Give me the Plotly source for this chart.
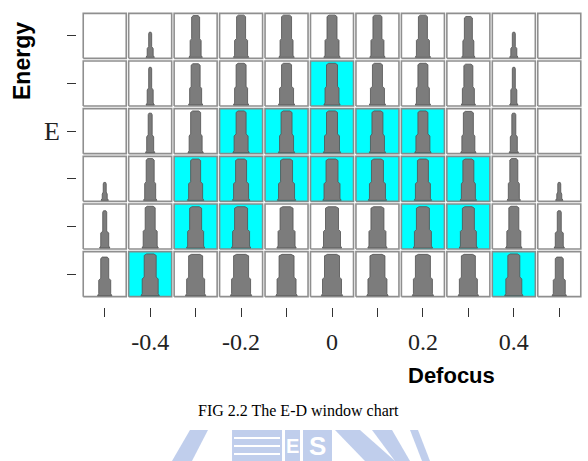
import plotly.graph_objects as go

# ---------------- data ----------------
defocus = [-0.5, -0.4, -0.3, -0.2, -0.1, 0.0, 0.1, 0.2, 0.3, 0.4, 0.5]
energy_levels = [5, 4, 3, 2, 1, 0]          # rows, top to bottom
x_tick_labels = ["", "-0.4", "", "-0.2", "", "0", "", "0.2", "", "0.4", ""]
y_tick_labels = ["", "", "E", "", "", ""]    # rows top to bottom

# in-window (cyan) cells, rows top to bottom
in_window = [
    [0, 0, 0, 0, 0, 0, 0, 0, 0, 0, 0],
    [0, 0, 0, 0, 0, 1, 0, 0, 0, 0, 0],
    [0, 0, 0, 1, 1, 1, 1, 1, 0, 0, 0],
    [0, 0, 1, 1, 1, 1, 1, 1, 1, 0, 0],
    [0, 0, 1, 1, 0, 0, 0, 1, 1, 0, 0],
    [0, 1, 0, 0, 0, 0, 0, 0, 0, 1, 0],
]
# resist profile height (fraction of cell), 0 = no profile
profile_height = [
    [0.00, 0.58, 0.95, 0.96, 0.96, 0.96, 0.96, 0.96, 0.93, 0.58, 0.00],
    [0.00, 0.86, 0.94, 0.95, 0.95, 0.95, 0.95, 0.95, 0.93, 0.86, 0.00],
    [0.00, 0.90, 0.95, 0.95, 0.95, 0.95, 0.95, 0.95, 0.94, 0.90, 0.00],
    [0.42, 0.95, 0.94, 0.94, 0.94, 0.94, 0.94, 0.94, 0.94, 0.95, 0.42],
    [0.85, 0.95, 0.94, 0.94, 0.94, 0.94, 0.94, 0.94, 0.94, 0.95, 0.85],
    [0.88, 0.95, 0.94, 0.94, 0.94, 0.94, 0.94, 0.94, 0.94, 0.95, 0.88],
]
# profile top width (px)
profile_top = [
    [0, 3, 8, 9, 10, 10, 9, 9, 8, 3, 0],
    [0, 3, 9, 10, 10, 11, 10, 10, 9, 3, 0],
    [0, 4, 10, 10, 11, 11, 11, 10, 10, 4, 0],
    [3, 8, 10, 11, 12, 12, 12, 11, 11, 8, 3],
    [4, 10, 12, 13, 13, 13, 13, 13, 12, 10, 4],
    [8, 12, 14, 15, 15, 15, 15, 15, 14, 12, 8],
]
# profile foot width (px)
profile_foot = [
    [0, 6, 11, 13, 13, 14, 13, 13, 11, 6, 0],
    [0, 6, 12, 13, 14, 14, 14, 13, 12, 6, 0],
    [0, 7, 13, 14, 14, 15, 14, 14, 13, 7, 0],
    [5, 11, 14, 15, 16, 16, 16, 15, 14, 11, 5],
    [8, 14, 16, 17, 17, 17, 17, 17, 16, 14, 8],
    [12, 16, 18, 19, 19, 19, 19, 19, 18, 16, 12],
]

# ---------------- geometry ----------------
W, H = 588, 461
X0, X1 = 82, 582          # plot area px
Y0, Y1 = 12, 298
xr = [-0.55, 0.55]
yr = [-0.5, 5.5]
dxu = (xr[1] - xr[0]) / (X1 - X0)   # data units per px
dyu = (yr[1] - yr[0]) / (Y1 - Y0)
half_w = 21.5 * dxu
half_h = 22.5 * dyu
cell_h = 2 * half_h

def cells(mask_val):
    xs, ys = [], []
    for r, e in enumerate(energy_levels):
        for c, d in enumerate(defocus):
            if in_window[r][c] == mask_val:
                xs += [d - half_w, d + half_w, d + half_w, d - half_w, d - half_w, None]
                ys += [e - half_h, e - half_h, e + half_h, e + half_h, e - half_h, None]
    return xs, ys

px, py = [], []
for r, e in enumerate(energy_levels):
    for c, d in enumerate(defocus):
        h = profile_height[r][c]
        if h <= 0:
            continue
        wt = profile_top[r][c] * dxu / 2
        wm = profile_foot[r][c] * dxu / 2
        wb = wm + 1.2 * dxu
        base = e - half_h + 1.0 * dyu
        top = e - half_h + h * cell_h
        s = base + (0.40 if h > 0.7 else 0.35) * (top - base)
        cap = 1.5 * dyu
        pts = [(-wb, base), (-wm, base + 2 * dyu), (-wm, s), (-wt, s + 2 * dyu),
               (-wt, top - cap), (-wt * 0.6, top), (wt * 0.6, top), (wt, top - cap),
               (wt, s + 2 * dyu), (wm, s), (wm, base + 2 * dyu), (wb, base), (-wb, base)]
        px += [d + p[0] for p in pts] + [None]
        py += [p[1] for p in pts] + [None]

fig = go.Figure()
wx, wy = cells(0)
cx, cy = cells(1)
fig.add_trace(go.Scatter(x=wx, y=wy, mode="lines", fill="toself", fillcolor="white",
                         line=dict(color="#8f8f8f", width=1.6), hoverinfo="skip"))
fig.add_trace(go.Scatter(x=cx, y=cy, mode="lines", fill="toself", fillcolor="#00ffff",
                         line=dict(color="#7f8f8f", width=1.6), hoverinfo="skip"))
fig.add_trace(go.Scatter(x=px, y=py, mode="lines", fill="toself", fillcolor="#7c7c7c",
                         line=dict(color="#505050", width=0.8), hoverinfo="skip"))

serif = "Liberation Serif, Times New Roman, serif"
sans = "Liberation Sans, Arial, sans-serif"

fig.update_layout(
    width=W, height=H, margin=dict(l=0, r=0, t=0, b=0),
    paper_bgcolor="white", plot_bgcolor="white", showlegend=False,
    xaxis=dict(domain=[X0 / W, X1 / W], range=xr, anchor="free", position=1 - 307 / H,
               showgrid=False, zeroline=False, showline=False,
               tickmode="array", tickvals=defocus, ticktext=x_tick_labels,
               ticks="outside", ticklen=9, tickwidth=1.3, tickcolor="#333",
               tickfont=dict(family=serif, size=24, color="#222"), ticklabelstandoff=4),
    yaxis=dict(domain=[1 - Y1 / H, 1 - Y0 / H], range=yr, anchor="free", position=76 / W,
               showgrid=False, zeroline=False, showline=False,
               tickmode="array", tickvals=energy_levels, ticktext=y_tick_labels,
               ticks="outside", ticklen=9, tickwidth=1.3, tickcolor="#333",
               tickfont=dict(family=serif, size=26, color="#222"), ticklabelstandoff=2),
)

fig.add_annotation(text="<b>Energy</b>", x=22 / W, y=1 - 61 / H, xref="paper", yref="paper",
                   xanchor="center", yanchor="middle",
                   textangle=-90, showarrow=False, font=dict(family=sans, size=23, color="black"))
fig.add_annotation(text="<b>Defocus</b>", x=451 / W, y=1 - 375 / H, xref="paper", yref="paper",
                   xanchor="center", yanchor="middle",
                   showarrow=False, font=dict(family=sans, size=22, color="black"))
fig.add_annotation(text="FIG 2.2 The E-D window chart", x=298 / W, y=1 - 410 / H,
                   xref="paper", yref="paper", xanchor="center", yanchor="middle", showarrow=False,
                   font=dict(family=serif, size=16, color="black"))

# faint watermark logo (decoration)
blue = "rgba(140,165,220,0.55)"
def P(x, y):
    return f"{x / W:.4f},{1 - y / H:.4f}"
wm_paths = [
    f"M {P(172,461)} L {P(190,430)} L {P(208,430)} L {P(192,461)} Z",
    f"M {P(232,430)} L {P(282,430)} L {P(282,461)} L {P(232,461)} Z",
    f"M {P(285,430)} L {P(300,430)} L {P(300,461)} L {P(285,461)} Z",
    f"M {P(303,430)} L {P(332,430)} L {P(332,461)} L {P(303,461)} Z",
    f"M {P(335,430)} L {P(360,430)} L {P(395,461)} L {P(365,461)} Z",
    f"M {P(372,430)} L {P(392,430)} L {P(410,461)} L {P(395,461)} Z",
    f"M {P(410,430)} L {P(418,430)} L {P(430,461)} L {P(422,461)} Z",
]
for p in wm_paths:
    fig.add_shape(type="path", path=p, xref="paper", yref="paper",
                  fillcolor=blue, line=dict(width=0), layer="below")
for yy in (438, 446, 454):
    fig.add_shape(type="line", x0=234 / W, x1=280 / W, y0=1 - yy / H, y1=1 - yy / H,
                  xref="paper", yref="paper", line=dict(color="white", width=2))
fig.add_annotation(text="<b>S</b>", x=317 / W, y=1 - 446 / H, xref="paper", yref="paper",
                   xanchor="center", yanchor="middle",
                   showarrow=False, font=dict(family=sans, size=26, color="white"))
fig.add_annotation(text="<b>E</b>", x=292 / W, y=1 - 446 / H, xref="paper", yref="paper",
                   xanchor="center", yanchor="middle",
                   showarrow=False, font=dict(family=sans, size=20, color="white"))

fig.write_html("out.html")
